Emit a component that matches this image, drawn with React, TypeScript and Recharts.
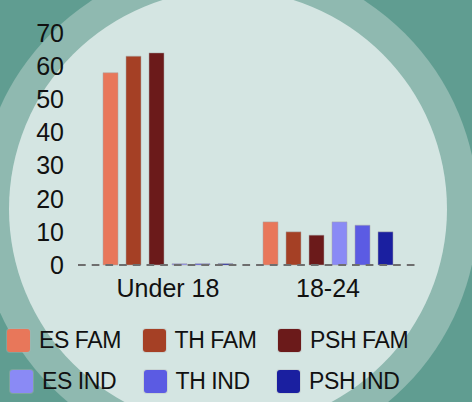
import React from 'react';
import { BarChart, Bar, XAxis, YAxis, ReferenceLine, Legend } from 'recharts';

const categories = ['Under 18', '18-24'];
const esFam = [58, 13];
const thFam = [63, 10];
const pshFam = [64, 9];
const esInd = [0.4, 13];
const thInd = [0.4, 12];
const pshInd = [0.4, 10];

const seriesNames = ['ES FAM', 'TH FAM', 'PSH FAM', 'ES IND', 'TH IND', 'PSH IND'];
const seriesColors = ['#e8775a', '#a54025', '#6b1a1a', '#8a8af5', '#5b5be3', '#1a1fa0'];
const seriesValues = [esFam, thFam, pshFam, esInd, thInd, pshInd];
const yTicks = [0, 10, 20, 30, 40, 50, 60, 70];

const FONT = '"Liberation Sans", Arial, Helvetica, sans-serif';

const data = categories.map((category, i) => {
  const row: Record<string, string | number> = { category };
  seriesNames.forEach((name, j) => {
    row[name] = seriesValues[j][i];
  });
  return row;
});

// two rows of three, like the original legend
const LegendRows = () => (
  <div style={{ height: 72, fontFamily: FONT, fontSize: 23, letterSpacing: -0.4, color: '#111' }}>
    {[0, 1].map((r) => (
      <div
        key={r}
        style={{ display: 'flex', height: 30, marginTop: r ? 11 : 0, paddingLeft: r ? 10 : 7 }}
      >
        {seriesNames.slice(r * 3, r * 3 + 3).map((name, k) => (
          <div
            key={name}
            style={{
              display: 'flex',
              alignItems: 'center',
              width: k < 2 ? (r ? 133.5 : 135.5) : 'auto',
              whiteSpace: 'nowrap',
            }}
          >
            <span
              style={{
                display: 'inline-block',
                width: 23,
                height: 23,
                borderRadius: 3,
                marginRight: 9,
                background: seriesColors[r * 3 + k],
                boxShadow: '0 0 0 1px rgba(180,180,180,0.35)',
              }}
            />
            <span>{name}</span>
          </div>
        ))}
      </div>
    ))}
  </div>
);

export default function App() {
  return (
    <div
      style={{
        position: 'absolute',
        left: 0,
        top: 0,
        width: 472,
        height: 402,
        overflow: 'hidden',
        background: '#609d91',
      }}
    >
      <svg width={472} height={402} style={{ position: 'absolute', left: 0, top: 0 }}>
        <circle cx={228} cy={210} r={250} fill="#8fb9b0" />
        <circle cx={228} cy={209} r={219} fill="#d4e5e2" />
      </svg>
      <div style={{ position: 'absolute', left: 0, top: 0 }}>
        <BarChart
          width={472}
          height={402}
          data={data}
          margin={{ top: 33, right: 52, bottom: 5, left: 0 }}
          barSize={15}
          barGap={8}
        >
          <XAxis
            dataKey="category"
            height={60}
            axisLine={false}
            tickLine={false}
            tickMargin={8}
            padding={{ left: 10, right: 12 }}
            tick={{ fill: '#111', fontSize: 25, fontFamily: FONT }}
          />
          <YAxis
            width={78}
            domain={[0, 70]}
            ticks={yTicks}
            interval={0}
            axisLine={false}
            tickLine={false}
            tickMargin={8}
            tick={{ fill: '#111', fontSize: 25, fontFamily: FONT }}
          />
          {seriesNames.map((name, j) => (
            <Bar
              key={name}
              dataKey={name}
              fill={seriesColors[j]}
              stroke="rgba(170,170,170,0.5)"
              strokeWidth={1}
              isAnimationActive={false}
            />
          ))}
          <ReferenceLine y={0} stroke="#6e6e6e" strokeWidth={2} strokeDasharray="7.7 6" />
          <Legend
            verticalAlign="bottom"
            content={() => <LegendRows />}
            wrapperStyle={{ left: 0, width: 472, bottom: 5 }}
          />
        </BarChart>
      </div>
    </div>
  );
}
